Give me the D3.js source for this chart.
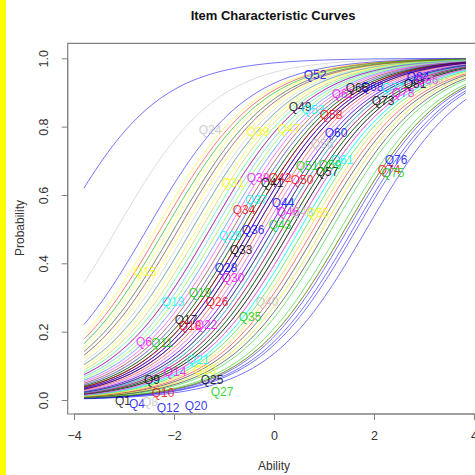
<!DOCTYPE html>
<html><head><meta charset="utf-8">
<script src="https://cdn.jsdelivr.net/npm/d3@7/dist/d3.min.js"></script>
<style>body{margin:0;background:#fff;} svg{display:block;font-family:"Liberation Sans",Arial,sans-serif;}</style>
</head><body>
<script>
// Item names Q1..Q86 and Rasch difficulties (b)
const items = d3.range(1, 87).map(i => "Q" + i);
const difficulty = [
  0.88,-1.64, 1.15, 1.85,-1.91,-1.01,-2.36, 0.97, 0.34, 0.79,
 -0.65, 1.65,-1.10, 0.43,-2.09,-1.73,-0.56,-0.38,-0.74, 1.48,
  0.52,-0.11, 0.97,-3.15, 1.06,-0.29, 1.33,-0.47,-0.83,-0.20,
 -1.37,-2.18,-0.38,-0.83, 0.61,-0.38,-0.74,-0.92,-1.46, 0.70,
 -0.56,-0.56, 0.07,-0.11,-1.19, 0.07,-1.82, 0.25,-1.28,-0.02,
 -0.02,-4.29,-1.01,-2.00, 0.70,-0.20, 0.34,-0.47, 0.25,-2.54,
  0.52,-0.74,-1.10,-1.46,-0.65,-2.27,-2.18,-0.47,-1.64,-1.28,
  0.16,-1.19, 0.16, 1.42, 1.42, 1.58, 0.07, 0.43,-1.55, 0.43,
  0.25,-1.91,-2.00,-0.02,-1.37, 0.16
];
// R default palette (cycled by item number)
const palette = ["#000000","#ff0000","#00cd00","#0000ff","#00ffff","#ff00ff","#ffff00","#bebebe"];
// label positions (ability, probability)
const labelNames = ["Q52","Q24","Q49","Q53","Q58","Q62","Q65","Q68","Q73","Q77","Q78","Q81","Q84","Q86","Q80",
  "Q60","Q56","Q61","Q76","Q74","Q75","Q57","Q51","Q59","Q50","Q38","Q42","Q41","Q31","Q37","Q44","Q34","Q46","Q48","Q55",
  "Q43","Q36","Q29","Q33","Q28","Q30","Q15","Q19","Q13","Q26","Q40","Q35","Q17","Q18","Q22","Q6","Q11","Q21","Q14","Q23",
  "Q9","Q25","Q27","Q10","Q1","Q4","Q8","Q12","Q20","Q39","Q47"];
const labelAbility = [0.82,-1.28,0.52,0.78,1.14,1.38,1.66,1.96,2.18,2.38,2.58,2.82,2.88,3.06,3.24,
  1.24,0.96,1.36,2.44,2.30,2.38,1.06,0.66,1.12,0.56,-0.32,0.12,-0.04,-0.82,-0.36,0.18,-0.60,0.28,0.56,0.88,
  0.12,-0.42,-0.88,-0.66,-0.96,-0.82,-2.58,-1.48,-2.02,-1.14,-0.14,-0.48,-1.76,-1.68,-1.36,-2.60,-2.24,-1.52,-1.98,-1.38,
  -2.44,-1.24,-1.04,-2.22,-3.02,-2.74,-2.48,-2.12,-1.56,-0.32,0.30];
const labelProb = [0.951,0.790,0.857,0.849,0.834,0.896,0.913,0.916,0.875,0.913,0.898,0.925,0.945,0.936,0.934,
  0.781,0.749,0.702,0.702,0.673,0.664,0.667,0.685,0.688,0.644,0.650,0.650,0.635,0.635,0.585,0.577,0.556,0.550,0.550,0.547,
  0.512,0.498,0.480,0.439,0.386,0.357,0.375,0.313,0.287,0.287,0.287,0.243,0.234,0.217,0.219,0.170,0.167,0.117,0.082,0.088,
  0.059,0.059,0.023,0.020,-0.003,-0.012,-0.006,-0.023,-0.018,0.784,0.793];
const xTicks = [-4,-2,0,2,4];
const yTicks = [0,0.2,0.4,0.6,0.8,1.0];
const yTickLabels = ["0.0","0.2","0.4","0.6","0.8","1.0"];
const abilityGrid = d3.range(-3.8, 3.86, 0.04);

const W = 475, H = 475;
const svg = d3.select("body").append("svg").attr("width", W).attr("height", H);
svg.append("rect").attr("width", W).attr("height", H).attr("fill", "#fff");
svg.append("rect").attr("x", 0).attr("y", 0).attr("width", 6).attr("height", H).attr("fill", "#ffff00");

const x = d3.scaleLinear().domain([-4, 4]).range([74, 474]);
const y = d3.scaleLinear().domain([0, 1]).range([400, 58.3]);
const box = {l: 67.7, t: 43.3, r: 482, b: 414};

const colorOf = name => palette[(+name.slice(1) - 1) % 8];
const icc = (t, b) => 1 / (1 + Math.exp(-(t - b)));

const g = svg.append("g");
svg.append("clipPath").attr("id", "c").append("rect")
  .attr("x", box.l).attr("y", box.t).attr("width", box.r - box.l).attr("height", box.b - box.t);
const line = d3.line().x(d => x(d[0])).y(d => y(d[1]));
const curves = g.append("g").attr("clip-path", "url(#c)");
items.forEach((name, i) => {
  curves.append("path")
    .attr("d", line(abilityGrid.map(t => [t, icc(t, difficulty[i])])))
    .attr("fill", "none").attr("stroke", colorOf(name)).attr("stroke-width", 0.9)
    .attr("stroke-opacity", 0.6);
});
const labs = g.append("g");
labelNames.forEach((n, i) => {
  labs.append("text").attr("x", x(labelAbility[i])).attr("y", y(labelProb[i]))
    .attr("text-anchor", "middle").attr("dominant-baseline", "central")
    .attr("font-size", 12).attr("fill", colorOf(n)).attr("fill-opacity", 0.8).text(n);
});

// box
svg.append("path").attr("d", `M${box.r},${box.t}H${box.l}V${box.b}H${box.r}`)
  .attr("fill", "none").attr("stroke", "#808080").attr("stroke-width", 1.2);

// axes
const xa = svg.append("g").attr("transform", `translate(0,${box.b})`)
  .call(d3.axisBottom(x).tickValues(xTicks).tickSize(6).tickPadding(11).tickFormat(d3.format("d")));
xa.select(".domain").attr("d", `M${x(-4)},0H${x(4)}`).attr("stroke", "#808080");
const ya = svg.append("g").attr("transform", `translate(${box.l},0)`)
  .call(d3.axisLeft(y).tickValues(yTicks).tickSize(6).tickFormat((d, i) => yTickLabels[i]));
ya.select(".domain").attr("d", `M0,${y(0)}V${y(1)}`).attr("stroke", "#808080");
ya.selectAll(".tick text").attr("transform", "rotate(-90)").attr("x", 0).attr("y", -20)
  .attr("text-anchor", "middle").attr("dy", "0");
svg.selectAll(".tick line").attr("stroke", "#808080");
svg.selectAll(".tick text").attr("font-size", 12.5).attr("fill", "#333")
  .attr("font-family", "'Liberation Sans', Arial, sans-serif");

svg.append("text").attr("x", 273).attr("y", 20).attr("text-anchor", "middle")
  .attr("font-weight", "bold").attr("font-size", 13).attr("fill", "#111").text("Item Characteristic Curves");
svg.append("text").attr("x", 274).attr("y", 470).attr("text-anchor", "middle")
  .attr("font-size", 12).attr("fill", "#333").text("Ability");
svg.append("text").attr("transform", "translate(24,228) rotate(-90)").attr("text-anchor", "middle")
  .attr("font-size", 12).attr("fill", "#333").text("Probability");
</script>
</body></html>
